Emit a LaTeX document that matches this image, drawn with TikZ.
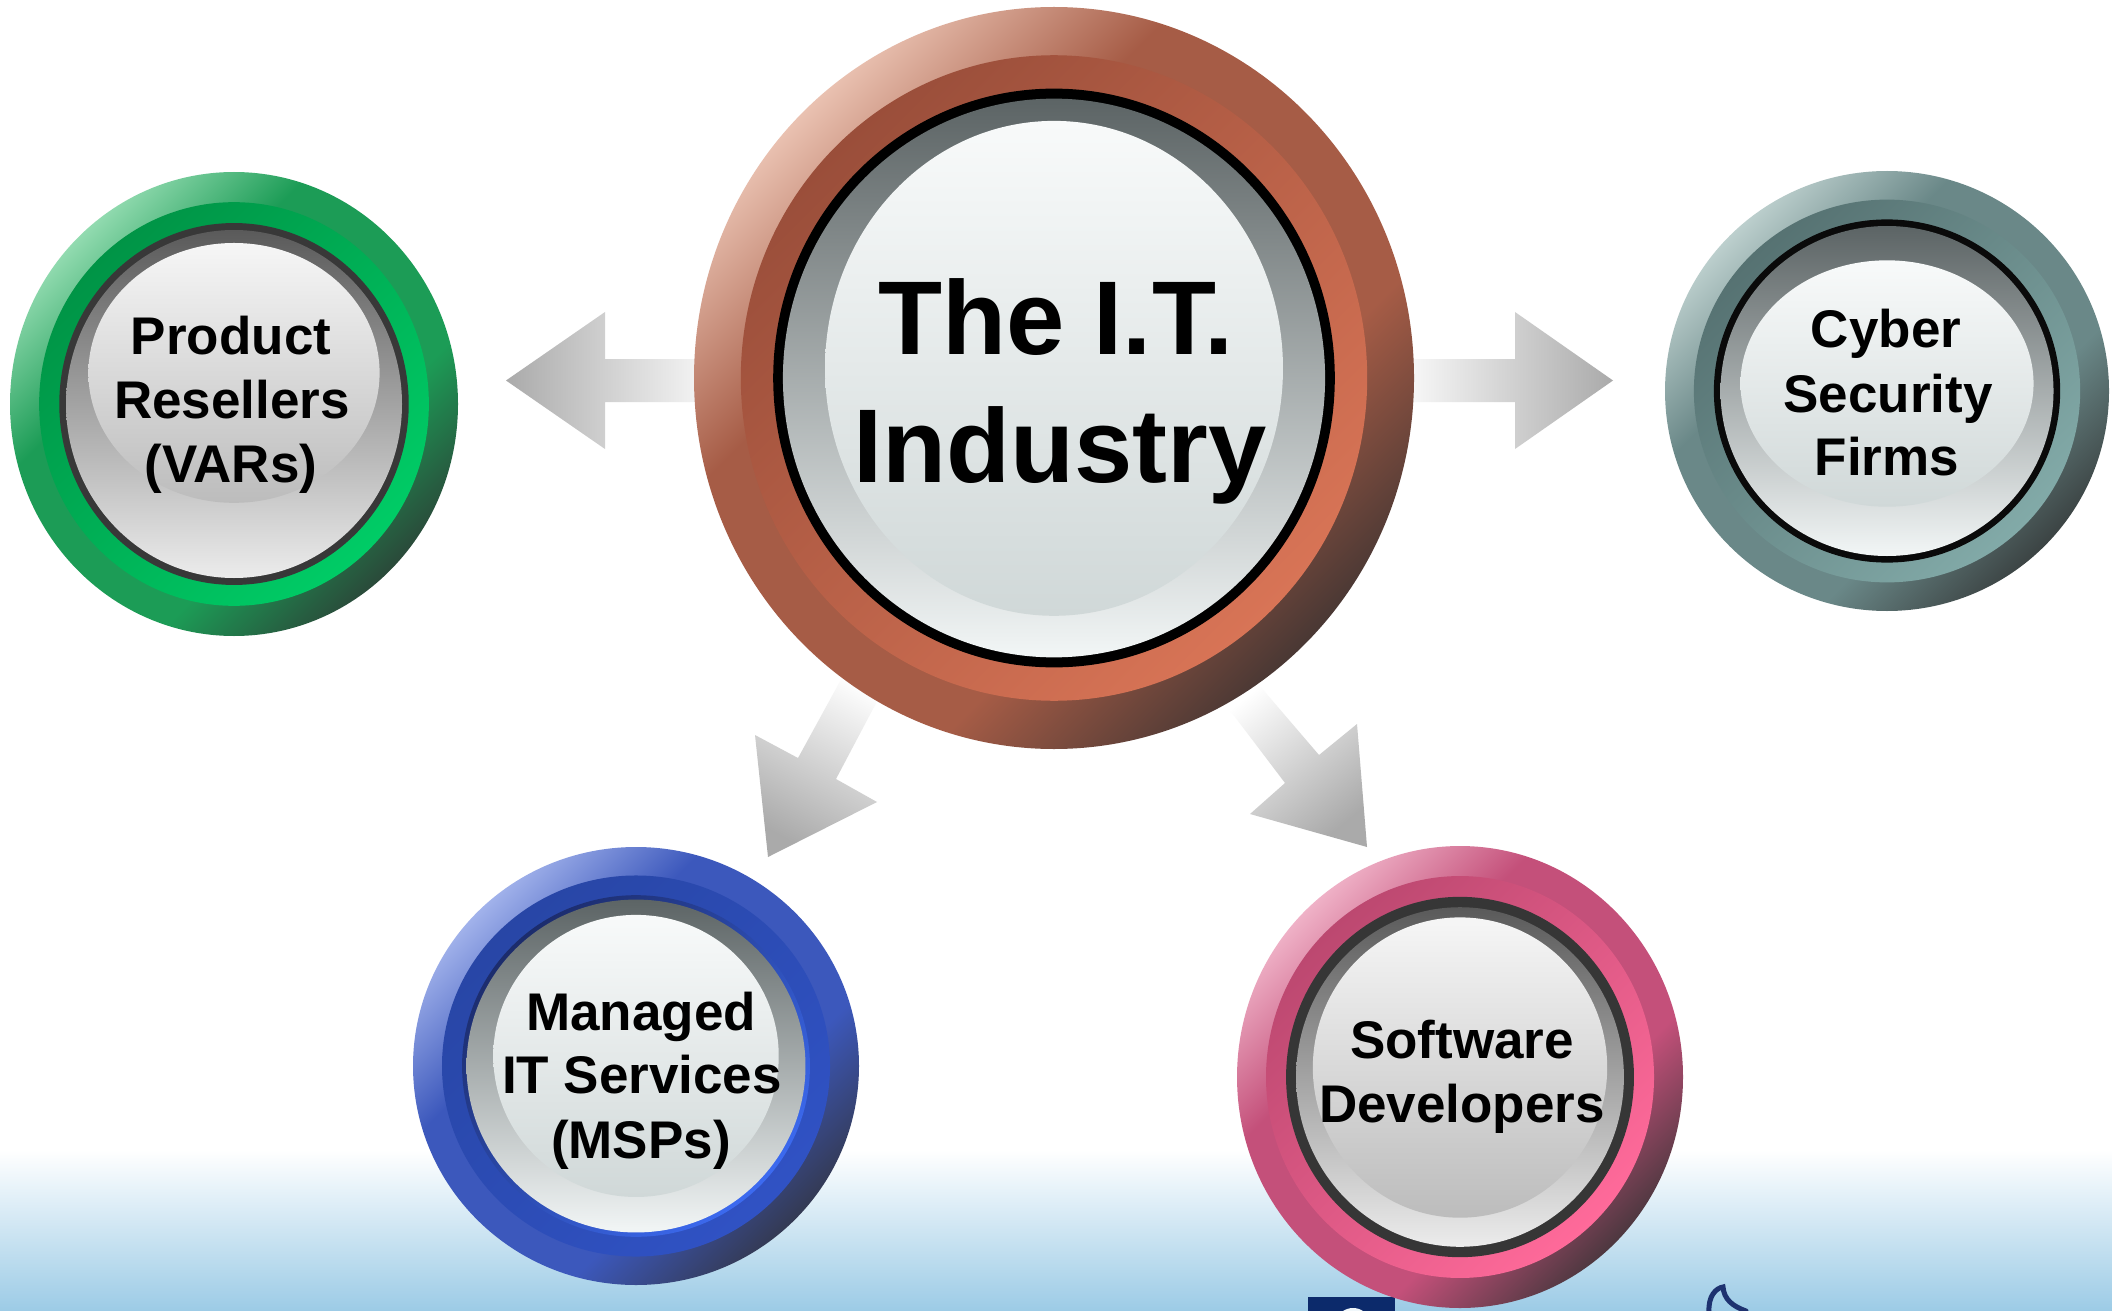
\documentclass[tikz,border=0pt]{standalone}
\usepackage{fontspec}
\setmainfont{Liberation Sans}
\usetikzlibrary{calc}

\definecolor{bgblue}{HTML}{9CCBE6}
\definecolor{arrdark}{HTML}{AAAAAA}
\definecolor{navy}{HTML}{0C2A6B}
\definecolor{hookblue}{HTML}{1E3270}
\definecolor{bdA}{HTML}{5C6465}\definecolor{bdB}{HTML}{F2F6F6}
\definecolor{bhA}{HTML}{F8FAFA}\definecolor{bhB}{HTML}{D0D8D8}
\definecolor{gdA}{HTML}{5A5A5A}\definecolor{gdB}{HTML}{ECECEC}
\definecolor{ghA}{HTML}{F6F6F6}\definecolor{ghB}{HTML}{BCBCBC}
\definecolor{coA}{HTML}{EEC8B8}\definecolor{coB}{HTML}{A65C46}\definecolor{coC}{HTML}{4A3834}
\definecolor{cbA}{HTML}{9A4E3A}\definecolor{cbB}{HTML}{D87456}
\definecolor{voA}{HTML}{9ADFB6}\definecolor{voB}{HTML}{1C9C56}\definecolor{voC}{HTML}{2A4A3A}
\definecolor{vbA}{HTML}{009446}\definecolor{vbB}{HTML}{00CC66}
\definecolor{vring}{HTML}{383838}
\definecolor{yoA}{HTML}{C2D4D2}\definecolor{yoB}{HTML}{6A8888}\definecolor{yoC}{HTML}{3C4444}
\definecolor{ybA}{HTML}{567272}\definecolor{ybB}{HTML}{82AAA8}
\definecolor{yring}{HTML}{0A0A0A}
\definecolor{moA}{HTML}{A8B8EE}\definecolor{moB}{HTML}{3C58BC}\definecolor{moC}{HTML}{343A54}
\definecolor{mbA}{HTML}{2846A6}\definecolor{mbB}{HTML}{3052C4}
\definecolor{mrA}{HTML}{1C2C6C}\definecolor{mrB}{HTML}{3C6AF0}
\definecolor{doA}{HTML}{F2B8CC}\definecolor{doB}{HTML}{C4507A}\definecolor{doC}{HTML}{4E3840}
\definecolor{dbA}{HTML}{BC4870}\definecolor{dbB}{HTML}{FF6A9A}
\definecolor{dring}{HTML}{363636}

% outer-rim shadings: dark bottom-right, broad middle tone, light top-left
\pgfdeclareverticalshading{coreouter}{100bp}{color(0bp)=(coC); color(25bp)=(coC); color(38bp)=(coB); color(62bp)=(coB); color(76bp)=(coA); color(100bp)=(coA)}
\pgfdeclareverticalshading{varouter}{100bp}{color(0bp)=(voC); color(25bp)=(voC); color(38bp)=(voB); color(62bp)=(voB); color(76bp)=(voA); color(100bp)=(voA)}
\pgfdeclareverticalshading{cybouter}{100bp}{color(0bp)=(yoC); color(25bp)=(yoC); color(38bp)=(yoB); color(62bp)=(yoB); color(76bp)=(yoA); color(100bp)=(yoA)}
\pgfdeclareverticalshading{mspouter}{100bp}{color(0bp)=(moC); color(25bp)=(moC); color(38bp)=(moB); color(62bp)=(moB); color(76bp)=(moA); color(100bp)=(moA)}
\pgfdeclareverticalshading{devouter}{100bp}{color(0bp)=(doC); color(25bp)=(doC); color(38bp)=(doB); color(62bp)=(doB); color(76bp)=(doA); color(100bp)=(doA)}

\tikzset{
  lbl/.style={font=\bfseries\fontsize{26.5}{30}\selectfont, anchor=base, inner sep=0pt, text=black},
  biglbl/.style={font=\bfseries\fontsize{52.4}{60}\selectfont, anchor=base, inner sep=0pt, text=black},
  bluishdisc/.style={top color=bdA, bottom color=bdB},
  bluishhi/.style={top color=bhA, bottom color=bhB},
  graydisc/.style={top color=gdA, bottom color=gdB},
  grayhi/.style={top color=ghA, bottom color=ghB},
  core outer/.style={shade, shading=coreouter, shading angle=45},
  core band/.style={top color=cbA, bottom color=cbB, shading angle=45},
  core ring/.style={fill=black},
  core disc/.style={bluishdisc},
  core hi/.style={bluishhi},
  var outer/.style={shade, shading=varouter, shading angle=45},
  var band/.style={top color=vbA, bottom color=vbB, shading angle=45},
  var ring/.style={fill=vring},
  var disc/.style={graydisc},
  var hi/.style={grayhi},
  cyb outer/.style={shade, shading=cybouter, shading angle=45},
  cyb band/.style={top color=ybA, bottom color=ybB, shading angle=45},
  cyb ring/.style={fill=yring},
  cyb disc/.style={bluishdisc},
  cyb hi/.style={bluishhi},
  msp outer/.style={shade, shading=mspouter, shading angle=45},
  msp band/.style={top color=mbA, bottom color=mbB, shading angle=45},
  msp ring/.style={top color=mrA, bottom color=mrB, shading angle=45},
  msp disc/.style={bluishdisc},
  msp hi/.style={bluishhi},
  dev outer/.style={shade, shading=devouter, shading angle=45},
  dev band/.style={top color=dbA, bottom color=dbB, shading angle=45},
  dev ring/.style={fill=dring},
  dev disc/.style={graydisc},
  dev hi/.style={grayhi},
}

% #1 centre, #2 x radius, #3 y radius, #4 scheme, #5 disc factor,
% #6 highlight x factor, #7 highlight y factor, #8 highlight vertical shift factor
\newcommand\knob[8]{%
  \path[#4 outer] (#1) ellipse [x radius=#2, y radius=#3];
  \path[#4 band] (#1) ellipse [x radius={0.87*#2}, y radius={0.87*#3}];
  \path[#4 ring] (#1) ellipse [x radius={0.78*#2}, y radius={0.78*#3}];
  \path[#4 disc] (#1) ellipse [x radius={#5*#2}, y radius={#5*#3}];
  \path[#4 hi] ($(#1)+(0,{#8*#3})$) ellipse [x radius={#6*#2}, y radius={#7*#3}];
}

\begin{document}
\begin{tikzpicture}[x=0.5pt, y=-0.5pt]
\useasboundingbox (0,0) rectangle (2112,1310);
\clip (0,0) rectangle (2112,1310);

% background
\fill[white] (0,0) rectangle (2112,1310);
\shade[top color=white, bottom color=bgblue] (0,1150) rectangle (2112,1311);

% partial logo marks at the bottom edge
\fill[navy] (1308,1297) rectangle (1395,1312);
\fill[white!85!bgblue] (1353,1320) ellipse [x radius=15, y radius=12];
\draw[hookblue, line width=2.5pt, line cap=round]
  (1709,1312) .. controls (1708,1296) and (1716,1288) .. (1723,1287)
  .. controls (1724,1299) and (1732,1306) .. (1746,1311);

% centres
\coordinate (core) at (1054,378);
\coordinate (var)  at (234,404);
\coordinate (cyb)  at (1887,391);
\coordinate (msp)  at (636,1066);
\coordinate (dev)  at (1460,1077);

% block arrows
\path[left color=arrdark, right color=white]
  (730,359) -- (605,359) -- (605,312) -- (506,380.5) -- (605,449) -- (605,402) -- (730,402) -- cycle;
\path[left color=white, right color=arrdark]
  (1390,359) -- (1515,359) -- (1515,312) -- (1613,380.5) -- (1515,449) -- (1515,402) -- (1390,402) -- cycle;
\path[top color=white, bottom color=arrdark, shading angle=-29]
  (850,663) -- (838,685) -- (798,758) -- (755,735) -- (768,857) -- (877,802) -- (836,779) -- (874,707) -- (886,685) -- cycle;
\path[top color=white, bottom color=arrdark, shading angle=39.5]
  (1220,700) -- (1235,717) -- (1285,783) -- (1250,814) -- (1367,847) -- (1357,724) -- (1319,755) -- (1265,692) -- (1250,675) -- cycle;

% buttons
\knob{var}{224}{232}{var}{0.75}{0.65}{0.56}{-0.134}
\knob{cyb}{222}{220}{cyb}{0.75}{0.66}{0.56}{-0.034}
\knob{msp}{223}{219}{msp}{0.76}{0.64}{0.644}{-0.046}
\knob{dev}{223}{231}{dev}{0.735}{0.66}{0.65}{-0.041}
\knob{core}{360}{371}{core}{0.753}{0.636}{0.667}{-0.026}

% labels
\node[biglbl] (core-a) at (1056,354) {The I.T.};
\node[biglbl] (core-b) at (1060,482) {Industry};

\node[lbl] (var-a) at (231,355) {Product};
\node[lbl] (var-b) at (232,418) {Resellers};
\node[lbl] (var-c) at (231,482) {(VARs)};

\node[lbl] (cyb-a) at (1886,348) {Cyber};
\node[lbl] (cyb-b) at (1888,412) {Security};
\node[lbl] (cyb-c) at (1887,475) {Firms};

\node[lbl] (msp-a) at (641,1030) {Managed};
\node[lbl] (msp-b) at (642,1093) {IT Services};
\node[lbl] (msp-c) at (641,1158) {(MSPs)};

\node[lbl] (dev-a) at (1462,1058) {Software};
\node[lbl] (dev-b) at (1462,1122) {Developers};
\end{tikzpicture}
\end{document}
